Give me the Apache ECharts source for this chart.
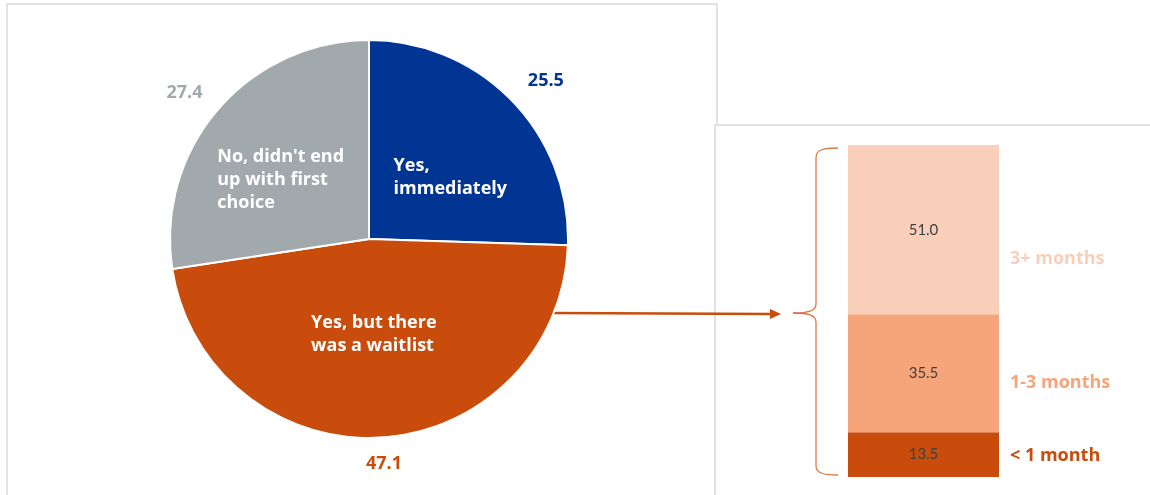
<!DOCTYPE html>
<html>
<head>
<meta charset="utf-8">
<script src="https://cdn.jsdelivr.net/npm/echarts@6/dist/echarts.min.js"></script>
<style>
  html, body { margin: 0; padding: 0; background: #ffffff; }
  #chart { width: 1150px; height: 495px; }
</style>
</head>
<body>
<div id="chart"></div>
<script>
// Did respondents get their first-choice provider?
const pieNames = ['Yes,\nimmediately', 'Yes, but there\nwas a waitlist', "No, didn't end\nup with first\nchoice"];
const pieValues = [25.5, 47.1, 27.4];
const pieColors = ['#003594', '#c94c0c', '#a2a9ad'];

// How long the waitlist was (stacked from the bottom up)
const waitNames = ['< 1 month', '1-3 months', '3+ months'];
const waitValues = [13.5, 35.5, 51.0];
const waitColors = ['#c94c0c', '#f6a47a', '#f9cfba'];
const waitCategory = ['Waitlist'];

const FONT = '"Open Sans", Lato, sans-serif';
const NUM_FONT = 'Lato, "Open Sans", sans-serif';

// Offsets used to place pie labels relative to their default anchors
const innerShift = [[-49, 10], [-64, -7], [-74, 8]];
const outerShift = [[-2, -7], [-21, 8], [3, -5]];
// Vertical offsets of the waitlist category labels
const sideShift = [1, 10, 29];

const chart = echarts.init(document.getElementById('chart'), null, { renderer: 'canvas' });

const pieCenter = [369, 239];
const pieRadius = 199;

const BRACE = { stroke: '#d97a4a', lineWidth: 1.3, fill: null };

const barSeries = waitValues.map((v, i) => ({
  name: waitNames[i],
  type: 'bar',
  stack: 'wait',
  barWidth: '100%',
  data: [v],
  itemStyle: { color: waitColors[i] },
  label: {
    show: true,
    position: 'inside',
    formatter: (p) => p.value.toFixed(1),
    color: '#404040',
    fontFamily: NUM_FONT,
    fontSize: 15
  },
  silent: true,
  z: 2
}));

const sideSeries = waitValues.map((v, i) => ({
  name: waitNames[i] + ' label',
  type: 'bar',
  stack: 'side',
  barWidth: '100%',
  barGap: '-100%',
  data: [v],
  itemStyle: { color: 'rgba(0,0,0,0)' },
  label: {
    show: true,
    position: 'right',
    distance: 11,
    offset: [0, sideShift[i]],
    formatter: waitNames[i],
    color: waitColors[i],
    fontFamily: FONT,
    fontWeight: 'bold',
    fontSize: 18
  },
  silent: true,
  z: 3
}));

const option = {
  animation: false,
  backgroundColor: '#ffffff',
  grid: { left: 848, top: 145, width: 151, height: 332 },
  xAxis: { type: 'category', data: waitCategory, show: false },
  yAxis: { type: 'value', min: 0, max: 100, show: false },
  graphic: [
    // panel frames
    {
      type: 'polyline', silent: true,
      shape: { points: [[7, 495], [7, 4], [717, 4], [717, 125]] },
      style: { stroke: '#d9d9d9', lineWidth: 1.5, fill: null }
    },
    {
      type: 'polyline', silent: true,
      shape: { points: [[715, 495], [715, 125], [1150, 125]] },
      style: { stroke: '#d9d9d9', lineWidth: 1.5, fill: null }
    },
    // arrow from the waitlist slice to the breakdown
    {
      type: 'line', silent: true,
      shape: { x1: 553, y1: 313, x2: 772, y2: 314 },
      style: { stroke: '#c94c0c', lineWidth: 2.5 }
    },
    {
      type: 'polygon', silent: true,
      shape: { points: [[770, 309], [781, 314], [770, 319]] },
      style: { fill: '#c94c0c' }
    },
    // curly brace spanning the stacked bar
    { type: 'bezierCurve', silent: true, shape: { x1: 838, y1: 148, cpx1: 822, cpy1: 148, cpx2: 816, cpy2: 150, x2: 816, y2: 158 }, style: BRACE },
    { type: 'line', silent: true, shape: { x1: 816, y1: 158, x2: 816, y2: 304 }, style: BRACE },
    { type: 'bezierCurve', silent: true, shape: { x1: 816, y1: 304, cpx1: 816, cpy1: 311, cpx2: 808, cpy2: 313, x2: 793, y2: 313 }, style: BRACE },
    { type: 'bezierCurve', silent: true, shape: { x1: 793, y1: 313, cpx1: 808, cpy1: 313, cpx2: 816, cpy2: 315, x2: 816, y2: 322 }, style: BRACE },
    { type: 'line', silent: true, shape: { x1: 816, y1: 322, x2: 816, y2: 466 }, style: BRACE },
    { type: 'bezierCurve', silent: true, shape: { x1: 816, y1: 466, cpx1: 816, cpy1: 474, cpx2: 826, cpy2: 475, x2: 838, y2: 475 }, style: BRACE }
  ],
  series: [
    {
      name: 'First choice',
      type: 'pie',
      center: pieCenter,
      radius: pieRadius,
      startAngle: 90,
      clockwise: true,
      silent: true,
      data: pieValues.map((v, i) => ({
        name: pieNames[i],
        value: v,
        itemStyle: { color: pieColors[i] }
      })),
      itemStyle: { borderColor: '#ffffff', borderWidth: 2 },
      label: {
        show: true,
        position: 'inside',
        formatter: '{b}',
        color: '#ffffff',
        fontFamily: FONT,
        fontWeight: 'bold',
        fontSize: 18,
        lineHeight: 23
      },
      labelLine: { show: false },
      labelLayout: (p) => ({
        dx: innerShift[p.dataIndex][0],
        dy: innerShift[p.dataIndex][1],
        align: 'left',
        verticalAlign: 'middle'
      }),
      z: 2
    },
    {
      name: 'First choice values',
      type: 'pie',
      center: pieCenter,
      radius: pieRadius,
      startAngle: 90,
      clockwise: true,
      silent: true,
      data: pieValues.map((v, i) => ({
        name: pieNames[i],
        value: v,
        itemStyle: { color: 'rgba(0,0,0,0)' },
        label: { color: pieColors[i] }
      })),
      itemStyle: { borderWidth: 0 },
      label: {
        show: true,
        position: 'outside',
        formatter: (p) => p.value.toFixed(1),
        fontFamily: FONT,
        fontWeight: 'bold',
        fontSize: 18
      },
      labelLine: { show: false, length: 18, length2: 0 },
      labelLayout: (p) => ({
        dx: outerShift[p.dataIndex][0],
        dy: outerShift[p.dataIndex][1]
      }),
      z: 3
    },
    ...barSeries,
    ...sideSeries
  ]
};

chart.setOption(option);
</script>
</body>
</html>
